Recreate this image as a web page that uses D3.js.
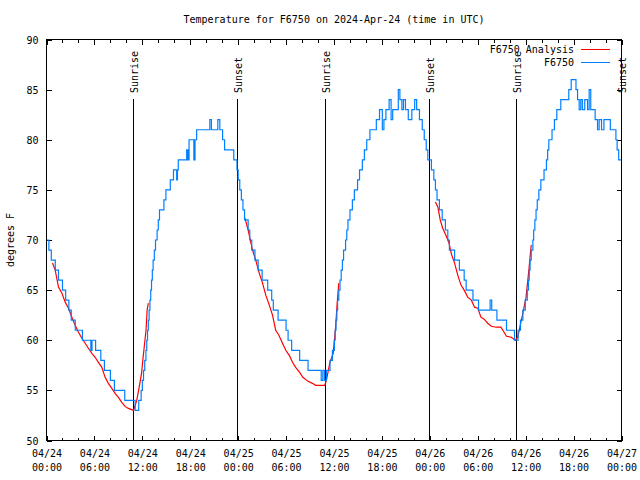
<!DOCTYPE html>
<html>
<head>
<meta charset="utf-8">
<script src="https://cdn.jsdelivr.net/npm/d3@7"></script>
<style>
  html, body { margin: 0; padding: 0; background: #fff; }
  svg { display: block; }
  text { font-family: "DejaVu Sans Mono", monospace; font-size: 10px; fill: #000; }
</style>
</head>
<body>
<svg id="chart" width="640" height="480"></svg>
<script>
// ---- data (hours since 2024-04-24 00:00 UTC) ----
const tickHours = [0, 6, 12, 18, 24, 30, 36, 42, 48, 54, 60, 66, 72];
const tickDates = ["04/24","04/24","04/24","04/24","04/25","04/25","04/25","04/25","04/26","04/26","04/26","04/26","04/27"];
const tickTimes = ["00:00","06:00","12:00","18:00","00:00","06:00","12:00","18:00","00:00","06:00","12:00","18:00","00:00"];
const minorHours = d3.range(0, 73, 2);
const yTicks = [50, 55, 60, 65, 70, 75, 80, 85, 90];

const sunHours  = [10.87, 23.88, 34.92, 47.88, 58.85, 71.88];
const sunLabels = ["Sunrise", "Sunset", "Sunrise", "Sunset", "Sunrise", "Sunset"];

// F6750 observations [hour, degF]
const f6750 = [
 [0,70],[0.3,69],[0.6,68],[1.1,67],[1.5,66],[2.0,65],[2.4,64],[2.8,63],[3.1,62],[3.6,61],[4.5,60],
 [5.55,59],[5.7,60],[6.15,59],[6.8,58],[7.25,57],[8.0,56],[8.5,55],[9.8,54],[11.1,53],[11.55,54],
 [11.85,55],[12.0,56],[12.15,57],[12.3,58],[12.45,59],[12.55,60],[12.65,61],[12.75,62],[12.85,63],
 [12.95,64],[13.05,65],[13.15,66],[13.25,67],[13.35,68],[13.5,69],[13.65,70],[13.85,71],[14.0,72],
 [14.15,73],[14.7,74],[14.95,75],[15.5,76],[15.9,77],[16.3,76],[16.4,77],[16.5,78],[17.55,79],
 [17.7,78],[17.85,80],[18.45,78],[18.6,80],[18.8,81],[20.45,82],[20.65,81],[21.45,82],[21.7,81],
 [22.05,80],[22.3,79],[23.45,78],[23.85,77],[24.0,76],[24.2,75],[24.4,74],[24.6,73],[24.8,72],
 [25.25,71],[25.45,70],[25.7,69],[26.1,68],[26.5,67],[27.0,66],[27.7,65],[28.2,64],[28.4,63],
 [29.0,62],[30.0,61],[30.25,60],[30.7,59],[31.7,58],[32.75,57],[34.4,56],[34.6,57],[34.8,56],
 [35.05,57],[35.5,58],[35.8,59],[36.05,60],[36.15,61],[36.25,62],[36.35,63],[36.45,64],[36.6,65],
 [36.75,66],[36.9,67],[37.05,68],[37.2,69],[37.45,70],[37.6,71],[37.75,72],[38.0,73],[38.3,74],
 [38.55,75],[38.95,76],[39.2,77],[39.55,78],[39.8,79],[40.1,80],[40.5,81],[41.3,82],[41.7,83],
 [42.05,81],[42.25,82],[42.5,83],[42.9,84],[43.15,82],[43.35,83],[44.05,85],[44.25,84],[44.5,83],
 [44.7,84],[44.95,83],[45.3,82],[45.75,83],[46.1,84],[46.35,83],[46.7,82],[47.05,81],[47.3,80],
 [47.55,79],[47.75,78],[48.2,77],[48.5,76],[48.7,75],[48.9,74],[49.2,73],[49.55,72],[49.95,71],
 [50.25,70],[50.45,69],[51.1,68],[51.7,67],[52.3,66],[52.55,65],[53.4,64],[54.1,63],[55.55,64],
 [55.75,63],[56.4,62],[57.6,61],[58.6,60],[59.05,61],[59.35,62],[59.65,63],[59.95,64],[60.2,65],
 [60.35,66],[60.45,67],[60.55,68],[60.7,69],[60.9,70],[61.0,71],[61.15,72],[61.3,73],[61.45,74],
 [61.65,75],[61.9,76],[62.3,77],[62.6,78],[62.75,79],[62.9,80],[63.3,81],[63.6,82],[63.9,83],
 [64.4,84],[65.4,85],[65.7,86],[66.3,85],[66.5,84],[66.7,83],[66.9,84],[67.1,83],[67.4,84],
 [67.75,83],[67.95,85],[68.15,83],[68.7,82],[69.0,81],[69.2,82],[69.5,81],[69.8,82],[70.6,81],
 [71.3,80],[71.45,79],[71.65,78],[72,78]
];

// F6750 Analysis [hour, degF]; null marks a gap
const analysis = [
 [0.75,67.7],[1.09,67],[1.5,65.3],[1.93,64.7],[2.34,63.8],[2.75,63.2],[3.18,62.3],[3.59,61.5],
 [4.0,60.8],[4.43,60.2],[4.84,59.7],[5.25,59.2],[5.68,58.7],[6.09,58.3],[6.5,57.8],[6.93,57.3],
 [7.34,56.3],[7.75,55.7],[8.18,55.2],[8.59,54.7],[9.0,54.3],[9.43,53.8],[9.84,53.4],[10.25,53.2],
 [10.9,53.0],[11.3,54],[11.6,55.3],[11.9,56.7],[12.1,58.3],[12.46,61],[12.6,63],[12.75,63.7],
 [12.8,null],
 [24.84,72.2],[25.25,71],[25.46,70.2],[25.8,69],[26.2,68],[26.6,66.8],[27.05,65.7],[27.46,64.5],
 [27.9,63.5],[28.3,62.5],[28.7,61],[29.1,60.5],[29.55,59.7],[29.96,59],[30.4,58.5],[30.8,57.8],
 [31.2,57.3],[31.7,56.8],[32.1,56.3],[32.75,55.9],[33.3,55.7],[33.7,55.5],[34.84,55.5],[35.05,56],
 [35.46,57.7],[35.9,58.7],[36.2,61.3],[36.4,63.7],[36.6,65.7],
 [36.7,null],
 [48.7,73.8],[49.0,73.3],[49.3,72],[49.6,71.2],[50.05,70.4],[50.4,69.7],[50.7,68.6],[51.1,67.7],
 [51.5,66.5],[51.9,65.5],[52.3,65],[52.75,64.3],[53.2,64],[53.6,63.3],[54.0,63.2],[54.4,62.3],
 [54.8,62.1],[55.25,61.7],[55.7,61.4],[56.3,61.3],[56.9,61.3],[57.3,60.8],[57.6,60.4],[58.2,60.3],
 [58.7,60],[59.0,60.3],[59.2,61],[59.4,61.8],[59.6,62.5],[59.8,63.3],[60.05,64.3],[60.4,67],
 [60.55,68.3],[60.7,69.5]
];

const seriesNames = ["F6750 Analysis", "F6750"];
const seriesColors = ["#ff0000", "#0080ff"];

// ---- chart ----
const svg = d3.select("#chart");
const L = 46.5, R = 621.5, T = 39.5, B = 440.5;
const x = d3.scaleLinear().domain([0, 72]).range([L, R]);
const y = d3.scaleLinear().domain([50, 90]).range([B, T]);

svg.append("rect").attr("width", 640).attr("height", 480).attr("fill", "#fff");

// title
svg.append("text").attr("x", 334).attr("y", 23).attr("text-anchor", "middle")
  .text("Temperature for F6750 on 2024-Apr-24 (time in UTC)");

// axes
const noDomain = g => g.select(".domain").remove();
const tickStyle = g => g.selectAll(".tick line").attr("stroke", "#000").attr("shape-rendering", "crispEdges");

const bottom = svg.append("g").attr("transform", `translate(0,${B})`)
  .call(d3.axisBottom(x).tickValues(tickHours).tickSize(-5).tickSizeOuter(0).tickFormat((d, i) => tickDates[i]))
  .call(noDomain).call(tickStyle);
bottom.selectAll(".tick text").each(function(d, i) {
  const t = d3.select(this);
  t.text(null).attr("y", 0).attr("dy", null);
  t.append("tspan").attr("x", 0).attr("y", 16).text(tickDates[i]);
  t.append("tspan").attr("x", 0).attr("y", 30).text(tickTimes[i]);
});
bottom.attr("font-family", null).attr("font-size", null);
svg.append("g").attr("transform", `translate(0,${B})`)
  .call(d3.axisBottom(x).tickValues(minorHours).tickSize(-3).tickSizeOuter(0).tickFormat(""))
  .call(noDomain).call(tickStyle);
svg.append("g").attr("transform", `translate(0,${T})`)
  .call(d3.axisTop(x).tickValues(tickHours).tickSize(-5).tickSizeOuter(0).tickFormat(""))
  .call(noDomain).call(tickStyle);
svg.append("g").attr("transform", `translate(0,${T})`)
  .call(d3.axisTop(x).tickValues(minorHours).tickSize(-3).tickSizeOuter(0).tickFormat(""))
  .call(noDomain).call(tickStyle);
const left = svg.append("g").attr("transform", `translate(${L},0)`)
  .call(d3.axisLeft(y).tickValues(yTicks).tickSize(-5).tickSizeOuter(0).tickPadding(8))
  .call(noDomain).call(tickStyle);
left.attr("font-family", null).attr("font-size", null);
left.selectAll(".tick text").attr("dy", "0.35em");
svg.append("g").attr("transform", `translate(${R},0)`)
  .call(d3.axisRight(y).tickValues(yTicks).tickSize(-5).tickSizeOuter(0).tickFormat(""))
  .call(noDomain).call(tickStyle);

// y label
svg.append("text").attr("transform", "translate(14,240) rotate(-90)")
  .attr("text-anchor", "middle").text("degrees F");

// sunrise / sunset markers
sunHours.forEach((h, i) => {
  const px = Math.round(x(h)) + 0.5;
  svg.append("line").attr("x1", px).attr("x2", px).attr("y1", 99).attr("y2", B)
    .attr("stroke", "#000").attr("stroke-width", 1).attr("shape-rendering", "crispEdges");
  svg.append("text").attr("transform", `translate(${px + 4},93) rotate(-90)`)
    .attr("text-anchor", "start").text(sunLabels[i]);
});

// series
const lineA = d3.line().defined(d => d[1] !== null).x(d => x(d[0])).y(d => y(d[1]));
svg.append("path").datum(analysis).attr("d", lineA)
  .attr("fill", "none").attr("stroke", seriesColors[0]).attr("stroke-width", 1.2);
const lineB = d3.line().curve(d3.curveStepAfter).x(d => x(d[0])).y(d => y(d[1]));
svg.append("path").datum(f6750).attr("d", lineB)
  .attr("fill", "none").attr("stroke", seriesColors[1]).attr("stroke-width", 1.2);

// border
svg.append("rect").attr("x", L).attr("y", T).attr("width", R - L).attr("height", B - T)
  .attr("fill", "none").attr("stroke", "#000").attr("shape-rendering", "crispEdges");

// legend
seriesNames.forEach((n, i) => {
  const ly = 49.5 + i * 13;
  svg.append("text").attr("x", 574).attr("y", ly + 3.5).attr("text-anchor", "end").text(n);
  svg.append("line").attr("x1", 581).attr("x2", 610).attr("y1", ly).attr("y2", ly)
    .attr("stroke", seriesColors[i]).attr("stroke-width", 1)
    .attr("shape-rendering", "crispEdges");
});
</script>
</body>
</html>
